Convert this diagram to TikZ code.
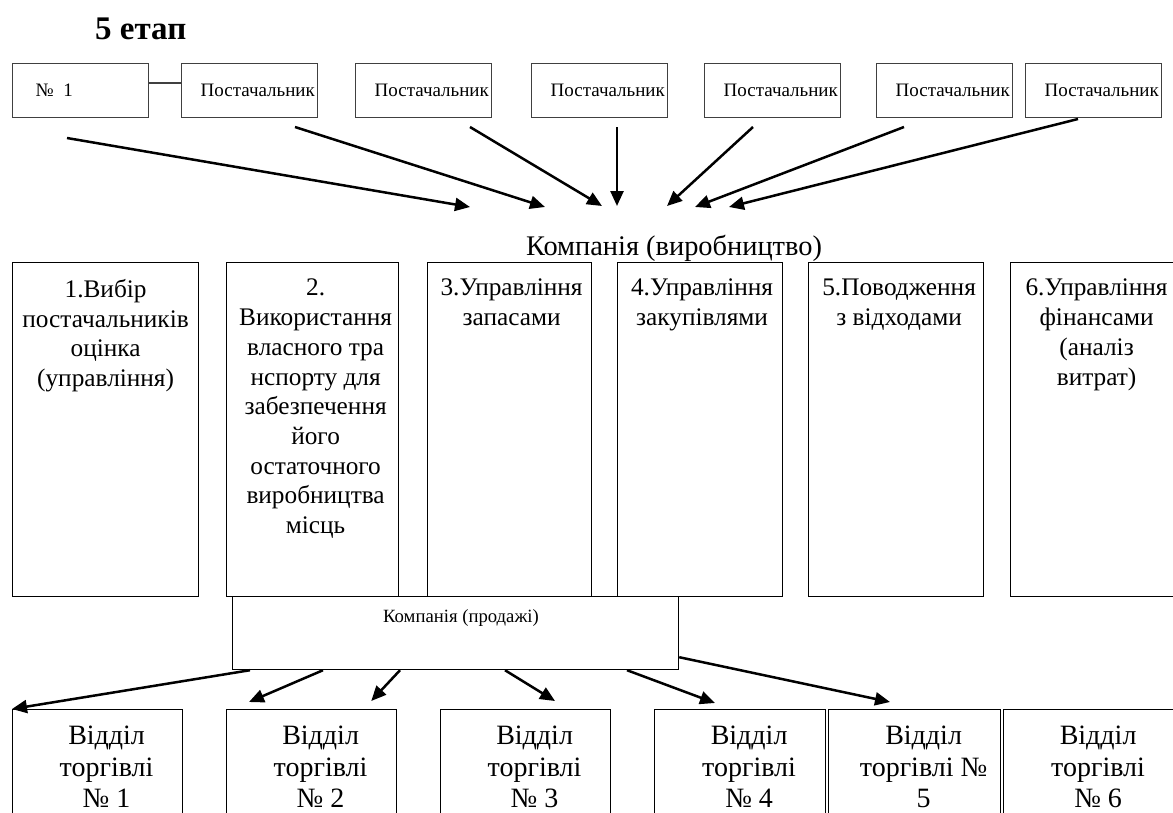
\documentclass[tikz,border=0pt]{standalone}
\usepackage{fontspec}
\setmainfont{Liberation Serif}
\usetikzlibrary{arrows.meta,positioning,calc}
\newcommand{\pstname}{\makebox[98pt][l]{Постачальник}}

\begin{document}
\begin{tikzpicture}[x=1pt,y=-1pt,
  supbox/.style={draw=black!75,line width=1.3pt,anchor=north west,minimum width=136pt,minimum height=54pt,inner sep=0pt,font=\fontsize{19}{22}\selectfont},
  colbox/.style={draw,line width=1.2pt,anchor=north west,minimum height=334pt,inner sep=0pt},
  coltext/.style={inner sep=0pt,align=center,font=\fontsize{25.3}{29.7}\selectfont},
  shopbox/.style={draw,line width=1.2pt,anchor=north west,minimum height=130pt,inner sep=0pt},
  shoptext/.style={inner sep=0pt,align=center,font=\fontsize{28}{31.5}\selectfont},
  arrow/.style={-{Triangle[length=15pt,width=13pt]},line width=2.5pt}
]
\useasboundingbox (0,0) rectangle (1173,812);

\node[anchor=base west,inner sep=0pt,font=\fontsize{33}{38}\selectfont\bfseries] (title) at (95,39) {5 етап};

% suppliers
\node[supbox] (s0) at (12,63) {\makebox[90pt][l]{№~~1}};
\node[supbox] (s1) at (181,63) {\pstname};
\node[supbox] (s2) at (355,63) {\pstname};
\node[supbox] (s3) at (531,63) {\pstname};
\node[supbox] (s4) at (704,63) {\pstname};
\node[supbox] (s5) at (876,63) {\pstname};
\node[supbox] (s6) at (1025,63) {\pstname};
\draw[line width=2pt,draw=black!75] ([yshift=8pt]s0.east) -- ([yshift=8pt]s1.west);

\coordinate (t0) at (67,138);   \coordinate (h0) at (470,207);
\coordinate (t1) at (295,127);  \coordinate (h1) at (545,207);
\coordinate (t2) at (470,127);  \coordinate (h2) at (602,206);
\coordinate (t3) at (617,127);  \coordinate (h3) at (617,206);
\coordinate (t4) at (753,127);  \coordinate (h4) at (667,206);
\coordinate (t5) at (904,127);  \coordinate (h5) at (695,207);
\coordinate (t6) at (1078,119); \coordinate (h6) at (729,207);
\draw[arrow] (t0) -- (h0);
\draw[arrow] (t1) -- (h1);
\draw[arrow] (t2) -- (h2);
\draw[arrow] (t3) -- (h3);
\draw[arrow] (t4) -- (h4);
\draw[arrow] (t5) -- (h5);
\draw[arrow] (t6) -- (h6);

\node[anchor=base,inner sep=0pt,font=\fontsize{28.4}{32}\selectfont] (prod) at (674,255) {Компанія (виробництво)};

% functions of the company
\node[colbox,minimum width=186pt] (m1) at (12,262) {};
\node[colbox,minimum width=172pt] (m2) at (226,262) {};
\node[colbox,minimum width=164pt] (m3) at (427,262) {};
\node[colbox,minimum width=165pt] (m4) at (617,262) {};
\node[colbox,minimum width=175pt] (m5) at (808,262) {};
\node[colbox,minimum width=172pt] (m6) at (1010,262) {};
\node[coltext,below=17pt of m1.north] (m1t) {1.Вибір\\постачальників\\оцінка\\(управління)};
\node[coltext,below=17pt of m2.north,xshift=3pt] (m2t) {2.\\Використання\\власного тра\\нспорту для\\забезпечення\\його\\остаточного\\виробництва\\місць};
\node[coltext,below=17pt of m3.north,xshift=2pt] (m3t) {3.Управління\\запасами};
\node[coltext,below=17pt of m4.north,xshift=2pt] (m4t) {4.Управління\\закупівлями};
\node[coltext,below=17pt of m5.north,xshift=3pt] (m5t) {5.Поводження\\з відходами};
\node[coltext,below=17pt of m6.north] (m6t) {6.Управління\\фінансами\\(аналіз\\витрат)};

% sales
\node[draw,line width=1.2pt,fill=white,anchor=north west,minimum width=446pt,minimum height=73pt,inner sep=0pt] (sales) at (232,596) {};
\node[anchor=base,inner sep=0pt,font=\fontsize{18.7}{22}\selectfont] (salest) at (461,622) {Компанія (продажі)};

\node[shopbox,minimum width=170pt] (b1) at (12,709) {};
\node[shopbox,minimum width=170pt] (b2) at (226,709) {};
\node[shopbox,minimum width=170pt] (b3) at (440,709) {};
\node[shopbox,minimum width=171pt] (b4) at (654,709) {};
\node[shopbox,minimum width=172pt] (b5) at (828,709) {};
\node[shopbox,minimum width=189pt] (b6) at (1003,709) {};
\node[shoptext,below=17pt of b1.north,xshift=9pt] (b1t) {Відділ\\торгівлі\\№ 1};
\node[shoptext,below=17pt of b2.north,xshift=9pt] (b2t) {Відділ\\торгівлі\\№ 2};
\node[shoptext,below=17pt of b3.north,xshift=9pt] (b3t) {Відділ\\торгівлі\\№ 3};
\node[shoptext,below=17pt of b4.north,xshift=9pt] (b4t) {Відділ\\торгівлі\\№ 4};
\node[shoptext,below=17pt of b5.north,xshift=9pt] (b5t) {Відділ\\торгівлі №\\5};
\node[shoptext,below=17pt of b6.north] (b6t) {Відділ\\торгівлі\\№ 6};

\draw[arrow] ($(sales.south west)+(18,0)$) -- (b1.north west);
\draw[arrow] ($(sales.south west)+(91,0)$) -- ($(b2.north west)+(23,-7)$);
\draw[arrow] ($(sales.south west)+(168,0)$) -- ($(b2.north east)+(-26,-8)$);
\draw[arrow] ($(sales.south west)+(273,0)$) -- ($(b3.north west)+(115,-8)$);
\draw[arrow] ($(sales.south west)+(395,0)$) -- ($(b4.north west)+(61,-6)$);
\draw[arrow] ($(sales.south east)+(0,-13)$) -- ($(b5.north west)+(62,-7)$);
\end{tikzpicture}
\end{document}
